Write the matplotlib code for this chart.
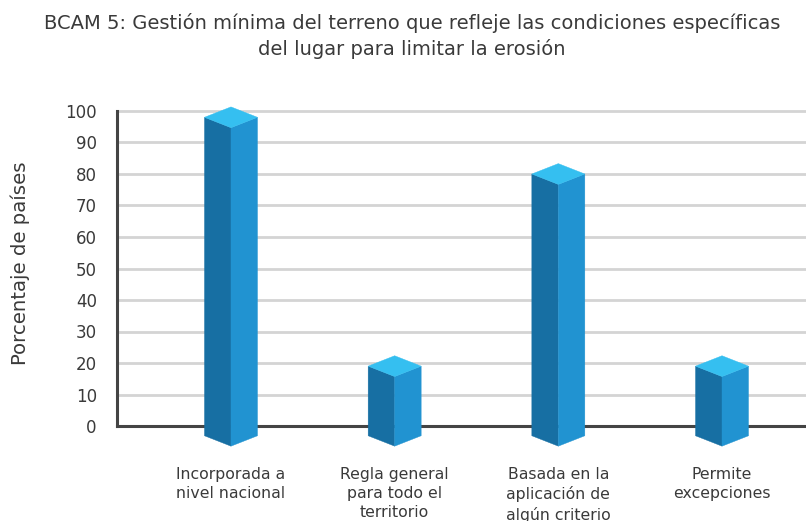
import matplotlib
matplotlib.use("Agg")
import matplotlib.pyplot as plt
from matplotlib.patches import Polygon

# datos
categorias = ["Incorporada a\nnivel nacional",
              "Regla general\npara todo el\nterritorio",
              "Basada en la\naplicación de\nalgún criterio",
              "Permite\nexcepciones"]
valores = [98, 19, 80, 19]
ticks_y = [0, 10, 20, 30, 40, 50, 60, 70, 80, 90, 100]

c_izq = "#176fa3"
c_der = "#2193d1"
c_sup = "#35bff0"
c_texto = "#3a3a3a"

plt.rcParams["font.family"] = ["DejaVu Sans"]

fig = plt.figure(figsize=(8.06, 5.21), dpi=100)
ax = fig.add_axes([117 / 806, (521 - 426) / 521, (805 - 117) / 806, 315 / 521])

x0 = -(231 - 117) / 163.7
x1 = 3 + (805 - 722) / 163.7
ax.set_xlim(x0, x1)
ax.set_ylim(0, 100)

# lineas de la rejilla
for t in ticks_y[1:]:
    ax.axhline(t, color="#d4d4d4", lw=2, zorder=0, clip_on=False)
ax.axhline(0, color="#444444", lw=2.2, zorder=1, clip_on=False)

# barras en falso 3D
hw = 26.5 / 163.7
dh = 3.3
base = -3.1
for i, v in enumerate(valores):
    izq = [(i - hw, base), (i, base - dh), (i, v - dh), (i - hw, v)]
    der = [(i, base - dh), (i + hw, base), (i + hw, v), (i, v - dh)]
    sup = [(i - hw, v), (i, v + dh), (i + hw, v), (i, v - dh)]
    for pts, c in [(izq, c_izq), (der, c_der), (sup, c_sup)]:
        ax.add_patch(Polygon(pts, closed=True, facecolor=c, edgecolor=c,
                             lw=0.3, clip_on=False, zorder=3))

for s in ["top", "right", "bottom"]:
    ax.spines[s].set_visible(False)
ax.spines["left"].set_color("#444444")
ax.spines["left"].set_linewidth(2.2)
ax.spines["left"].set_bounds(0, 100)

ax.set_yticks(ticks_y)
ax.set_yticklabels([str(t) for t in ticks_y], fontsize=12, color=c_texto)
ax.tick_params(axis="y", length=0, pad=14.5)
ax.set_xticks(range(len(categorias)))
ax.set_xticklabels(categorias, fontsize=11.3, color=c_texto, linespacing=1.33)
ax.tick_params(axis="x", length=0, pad=29.5)

fig.text(20 / 806, 1 - 263 / 521, "Porcentaje de países", rotation=90,
         ha="center", va="center", fontsize=14.2, color=c_texto)
fig.text(412 / 806, 1 - 36 / 521,
         "BCAM 5: Gestión mínima del terreno que refleje las condiciones específicas\n"
         "del lugar para limitar la erosión",
         ha="center", va="center", fontsize=14, color=c_texto, linespacing=1.4)

fig.savefig("out.png", dpi=100)
